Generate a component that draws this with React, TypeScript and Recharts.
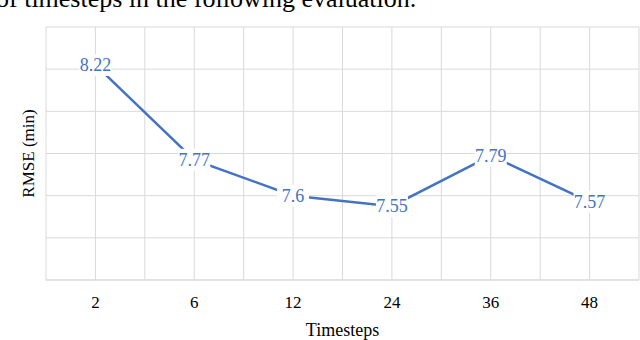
import React from 'react';
import { LineChart, Line, XAxis, YAxis, CartesianGrid, LabelList } from 'recharts';

const categories = ['2', '6', '12', '24', '36', '48'];
const rmseValues = [8.22, 7.77, 7.6, 7.55, 7.79, 7.57];
const yTicks = [7.2, 7.4, 7.6, 7.8, 8.0, 8.2, 8.4];
const caption = 'of timesteps in the following evaluation.';

const data = categories.map((c, i) => ({ step: c, rmse: rmseValues[i] }));

const BLUE = '#4472C4';
const GRID = '#d9d9d9';
const FONT = '"Liberation Serif", "Times New Roman", serif';

const DataLabel = (props: any) => {
  const { x, y, value } = props;
  if (x == null || y == null) return null;
  return (
    <g>
      <rect x={x - 16} y={y - 11} width={32} height={22} fill="#ffffff" />
      <text x={x} y={y + 6} textAnchor="middle" fontFamily={FONT} fontSize={18} fill={BLUE}>
        {value}
      </text>
    </g>
  );
};

const EmptyTick = () => <g />;

const YLabel = (props: any) => {
  const vb = props.viewBox || {};
  const cx = (vb.x || 0) + 34;
  const cy = (vb.y || 0) + (vb.height || 0) / 2;
  return (
    <text
      x={cx}
      y={cy}
      transform={`rotate(-90, ${cx}, ${cy})`}
      textAnchor="middle"
      fontFamily={FONT}
      fontSize={17}
      fill="#000"
    >
      RMSE (min)
    </text>
  );
};

const verticalLines = (props: any) => {
  const off = props.offset || {};
  const left = off.left ?? 46;
  const w = off.width ?? (props.width - left - (off.right ?? 0));
  const n = categories.length * 2;
  const res: number[] = [];
  for (let i = 0; i <= n; i++) res.push(left + (w * i) / n);
  return res;
};

export default function App() {
  return (
    <div
      style={{
        position: 'fixed',
        left: 0,
        top: 0,
        width: 640,
        height: 340,
        background: '#fff',
        overflow: 'hidden',
      }}
    >
      <div
        style={{
          position: 'absolute',
          left: -4,
          top: -16,
          fontFamily: FONT,
          fontSize: 26,
          whiteSpace: 'nowrap',
          color: '#000',
          lineHeight: 'normal',
        }}
      >
        {caption}
      </div>
      <div style={{ position: 'absolute', left: 0, top: 0 }}>
        <LineChart width={640} height={340} data={data} margin={{ top: 27, right: 1, bottom: 0, left: 0 }}>
          <CartesianGrid stroke={GRID} strokeWidth={1} verticalCoordinatesGenerator={verticalLines} />
          <XAxis
            dataKey="step"
            scale="band"
            height={60}
            tickLine={false}
            axisLine={{ stroke: GRID }}
            tickMargin={10}
            tick={{ fontFamily: FONT, fontSize: 17, fill: '#000' }}
            label={{
              value: 'Timesteps',
              position: 'insideBottom',
              offset: 4,
              style: { fontFamily: FONT, fontSize: 18, fill: '#000' },
            }}
          />
          <YAxis
            domain={[7.2, 8.4]}
            ticks={yTicks}
            width={46}
            tick={<EmptyTick />}
            tickLine={false}
            axisLine={false}
            label={<YLabel />}
          />
          <Line
            type="linear"
            dataKey="rmse"
            stroke={BLUE}
            strokeWidth={2.5}
            dot={false}
            isAnimationActive={false}
          >
            <LabelList dataKey="rmse" content={<DataLabel />} />
          </Line>
        </LineChart>
      </div>
    </div>
  );
}
